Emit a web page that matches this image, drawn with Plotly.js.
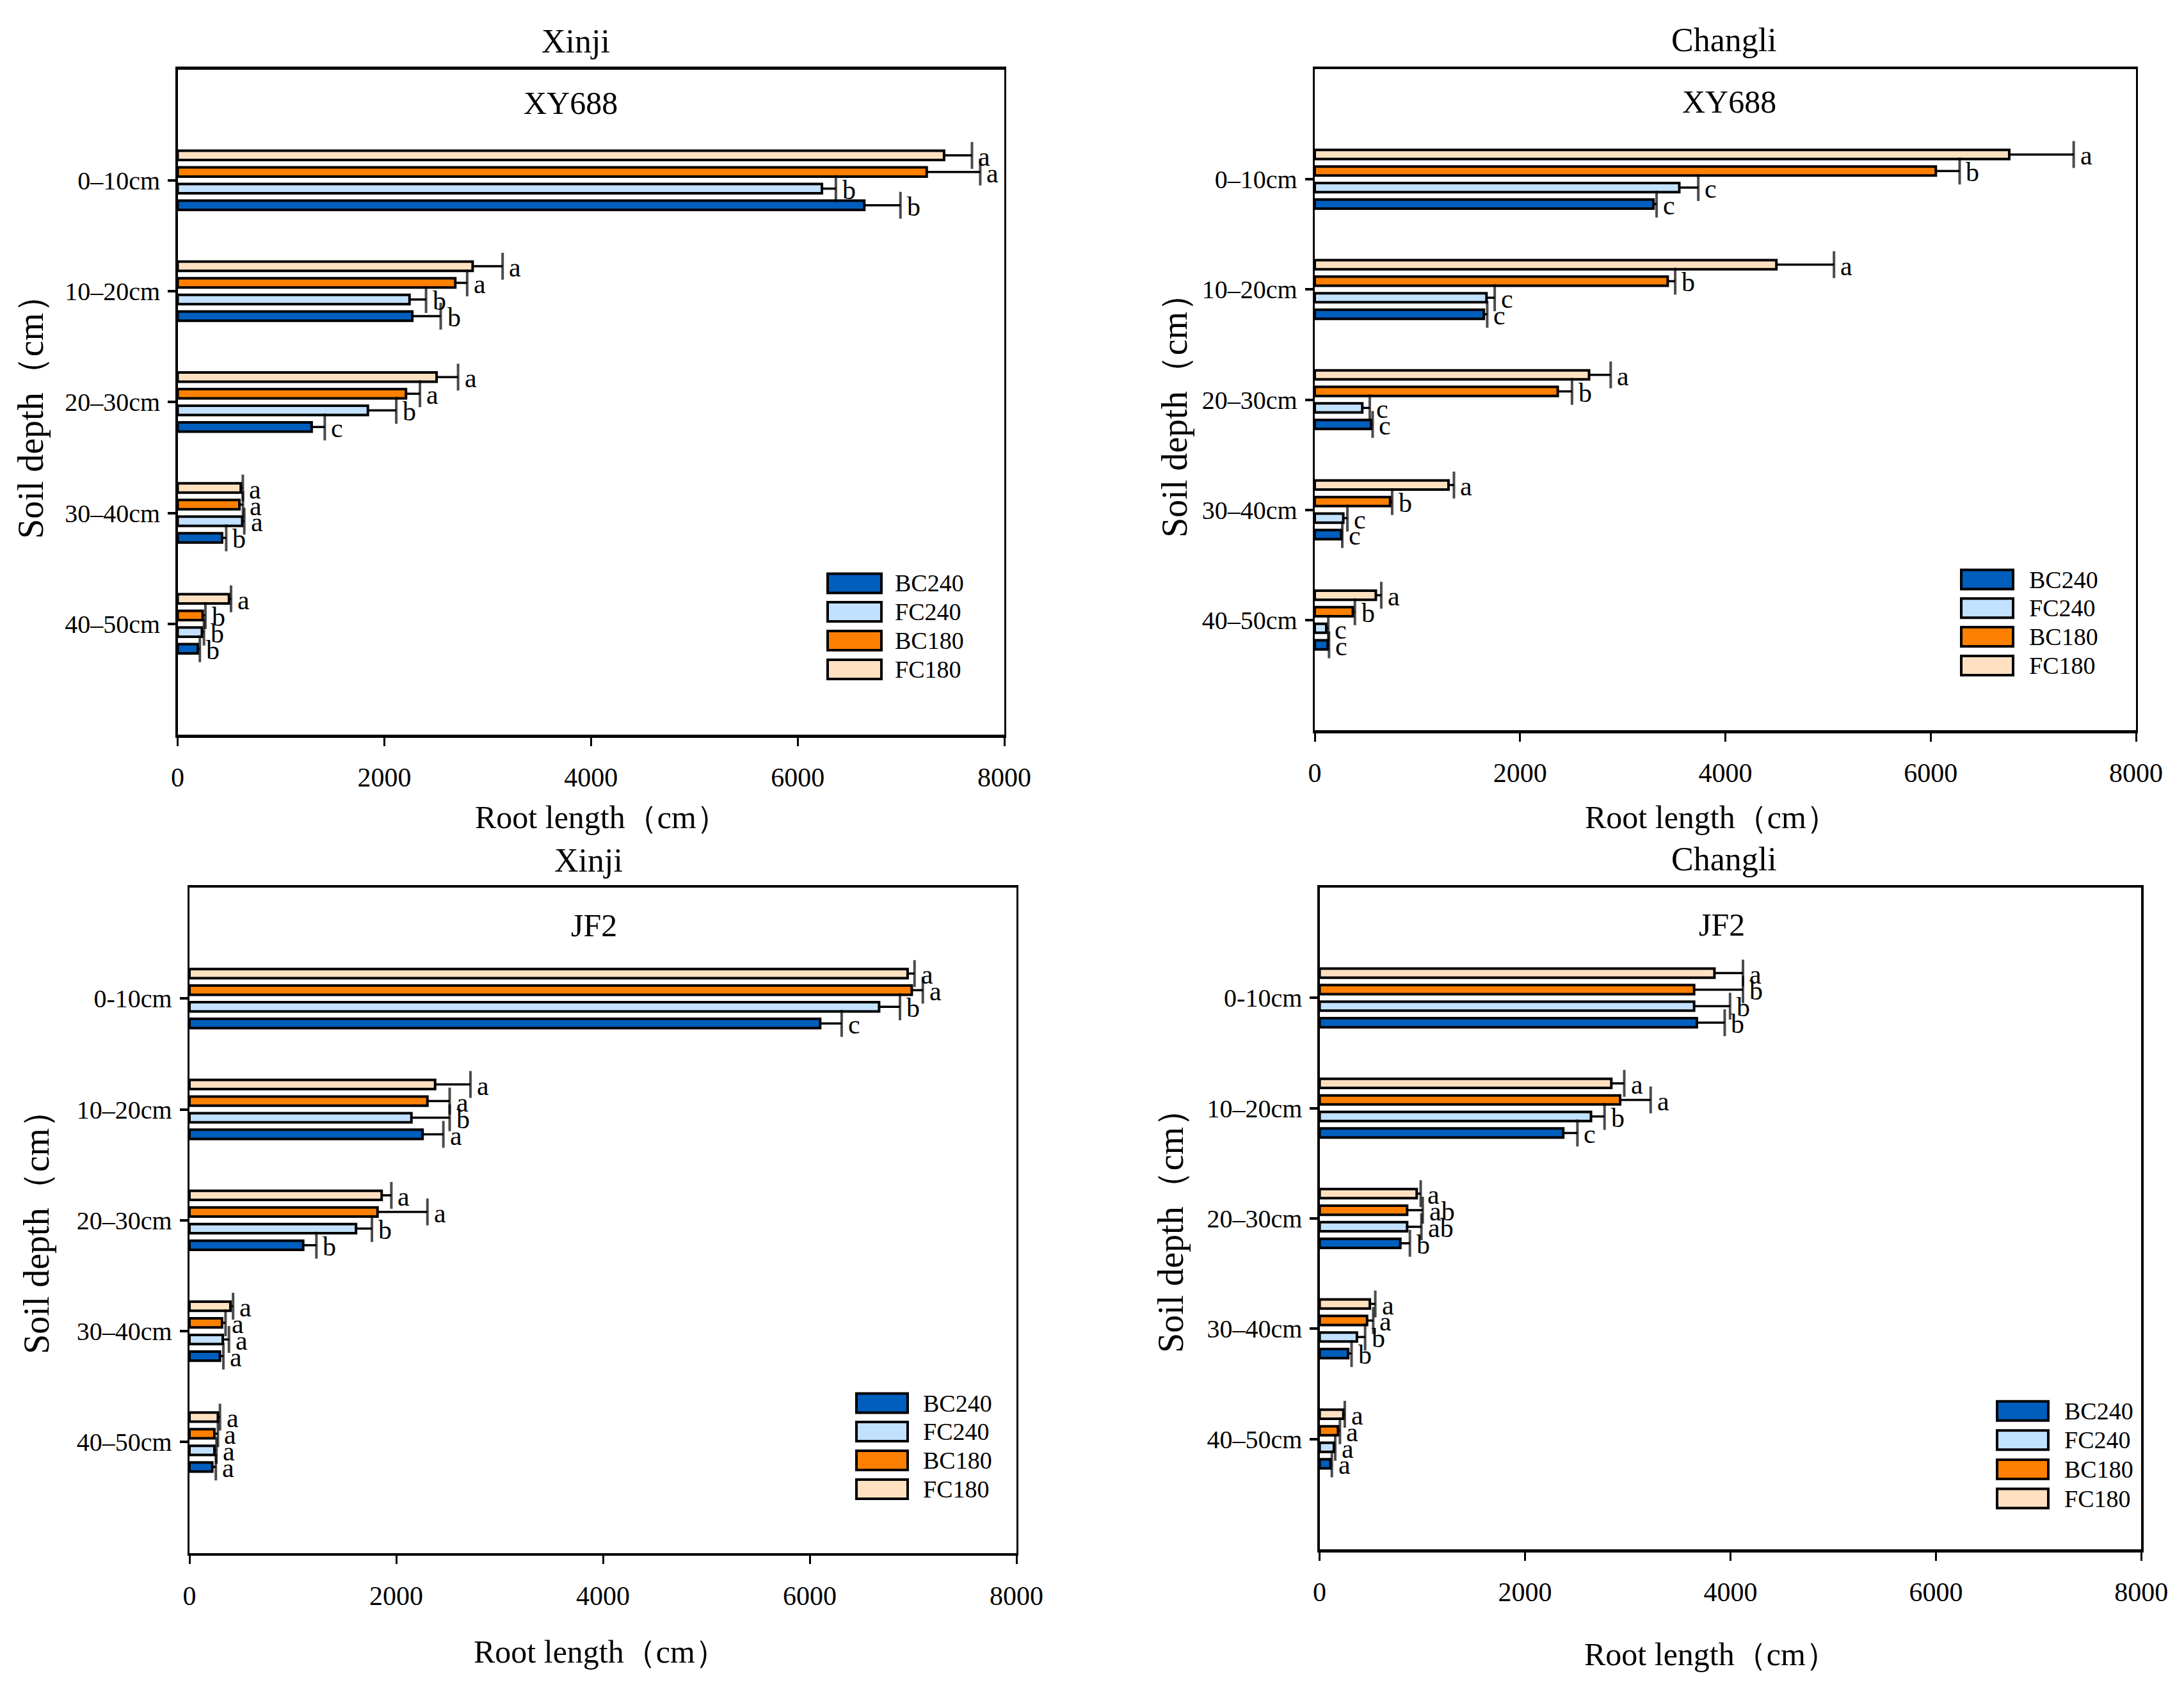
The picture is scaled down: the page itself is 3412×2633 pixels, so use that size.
<!DOCTYPE html>
<html><head><meta charset="utf-8">
<script src="https://cdn.plot.ly/plotly-3.0.1.min.js"></script>
<style>html,body{margin:0;padding:0;background:#fff}#chart{width:3412px;height:2633px}</style>
</head><body><div id="chart"></div>
<script>
// ---------- DATA ----------
const depthA = ['0–10cm','10–20cm','20–30cm','30–40cm','40–50cm'];
const depthB = ['0-10cm','10–20cm','20–30cm','30–40cm','40–50cm'];
const seriesNames = ['FC180','BC180','FC240','BC240'];   // top-to-bottom inside each group
const legendOrder = ['BC240','FC240','BC180','FC180'];
const xTicks = [0, 2000, 4000, 6000, 8000];

// Xinji - XY688
const xyXinji_FC180 = [7417, 2855, 2506, 611, 497];
const xyXinji_BC180 = [7249, 2687, 2210, 598, 242];
const xyXinji_FC240 = [6235, 2244, 1841, 625, 235];
const xyXinji_BC240 = [6645, 2271, 1297, 430, 195];
const xyXinji_FC180_err = [270, 290, 208, 20, 20];
const xyXinji_BC180_err = [518, 115, 135, 34, 27];
const xyXinji_FC240_err = [135, 160, 275, 20, 20];
const xyXinji_BC240_err = [350, 275, 127, 40, 20];
const xyXinji_FC180_sig = ['a','a','a','a','a'];
const xyXinji_BC180_sig = ['a','a','a','a','b'];
const xyXinji_FC240_sig = ['b','b','b','a','b'];
const xyXinji_BC240_sig = ['b','b','c','b','b'];

// Changli - XY688
const xyChangli_FC180 = [6765, 4497, 2672, 1303, 595];
const xyChangli_BC180 = [6050, 3438, 2367, 734, 371];
const xyChangli_FC240 = [3551, 1673, 463, 278, 112];
const xyChangli_BC240 = [3300, 1647, 549, 258, 126];
const xyChangli_FC180_err = [628, 561, 211, 53, 53];
const xyChangli_BC180_err = [232, 73, 139, 20, 20];
const xyChangli_FC240_err = [185, 80, 73, 40, 20];
const xyChangli_BC240_err = [30, 33, 15, 10, 13];
const xyChangli_FC180_sig = ['a','a','a','a','a'];
const xyChangli_BC180_sig = ['b','b','b','b','b'];
const xyChangli_FC240_sig = ['c','c','c','c','c'];
const xyChangli_BC240_sig = ['c','c','c','c','c'];

// Xinji - JF2
const jfXinji_FC180 = [6947, 2376, 1859, 396, 275];
const jfXinji_BC180 = [6987, 2302, 1819, 315, 241];
const jfXinji_FC240 = [6671, 2147, 1611, 322, 241];
const jfXinji_BC240 = [6101, 2255, 1100, 295, 221];
const jfXinji_FC180_err = [67, 342, 94, 26, 20];
const jfXinji_BC180_err = [107, 215, 483, 34, 34];
const jfXinji_FC240_err = [202, 370, 154, 60, 20];
const jfXinji_BC240_err = [208, 201, 128, 33, 34];
const jfXinji_FC180_sig = ['a','a','a','a','a'];
const jfXinji_BC180_sig = ['a','a','a','a','a'];
const jfXinji_FC240_sig = ['b','b','b','a','a'];
const jfXinji_BC240_sig = ['c','a','b','a','a'];

// Changli - JF2
const jfChangli_FC180 = [3844, 2840, 945, 489, 231];
const jfChangli_BC180 = [3646, 2926, 852, 462, 179];
const jfChangli_FC240 = [3646, 2642, 852, 363, 139];
const jfChangli_BC240 = [3673, 2372, 786, 278, 106];
const jfChangli_FC180_err = [278, 126, 39, 53, 14];
const jfChangli_BC180_err = [476, 297, 152, 60, 19];
const jfChangli_FC240_err = [350, 132, 139, 80, 13];
const jfChangli_BC240_err = [271, 138, 93, 33, 13];
const jfChangli_FC180_sig = ['a','a','a','a','a'];
const jfChangli_BC180_sig = ['b','a','ab','a','a'];
const jfChangli_FC240_sig = ['b','b','ab','b','a'];
const jfChangli_BC240_sig = ['b','c','b','b','a'];

// ---------- STYLE / LAYOUT ----------
const colors = {BC240:'#005EBD', FC240:'#C2E1FF', BC180:'#FF8000', FC180:'#FFE1C2'};
const W = 3412, H = 2633;
const px = x => x / W, py = y => 1 - y / H;
const SERIF = 'Liberation Serif, Times New Roman, serif';

const panels = [
  {L:277.5,R:1569,T:108.5,B:1148, cats:depthA, title:'Xinji', tpos:[900,65], sub:'XY688', spos:[891,161], yt:[48,638], xt:[940,1277],
   lg:{x0:1293,x1:1377,tx:1396,rows:[911.5,956,1001,1046]},
   vals:[xyXinji_FC180,xyXinji_BC180,xyXinji_FC240,xyXinji_BC240],
   errs:[xyXinji_FC180_err,xyXinji_BC180_err,xyXinji_FC240_err,xyXinji_BC240_err],
   sigs:[xyXinji_FC180_sig,xyXinji_BC180_sig,xyXinji_FC240_sig,xyXinji_BC240_sig]},
  {L:2054,R:3337,T:108,B:1141, cats:depthA, title:'Changli', tpos:[2693,62], sub:'XY688', spos:[2701,159], yt:[1835,635], xt:[2674,1277],
   lg:{x0:3064,x1:3145,tx:3168,rows:[905.6,950.3,995,1040]},
   vals:[xyChangli_FC180,xyChangli_BC180,xyChangli_FC240,xyChangli_BC240],
   errs:[xyChangli_FC180_err,xyChangli_BC180_err,xyChangli_FC240_err,xyChangli_BC240_err],
   sigs:[xyChangli_FC180_sig,xyChangli_BC180_sig,xyChangli_FC240_sig,xyChangli_BC240_sig]},
  {L:296,R:1588,T:1387,B:2426.6, cats:depthB, title:'Xinji', tpos:[919,1344], sub:'JF2', spos:[928,1446], yt:[57,1912], xt:[938,2581],
   lg:{x0:1338,x1:1418,tx:1440,rows:[2192.6,2237,2282,2327]},
   vals:[jfXinji_FC180,jfXinji_BC180,jfXinji_FC240,jfXinji_BC240],
   errs:[jfXinji_FC180_err,jfXinji_BC180_err,jfXinji_FC240_err,jfXinji_BC240_err],
   sigs:[jfXinji_FC180_sig,jfXinji_BC180_sig,jfXinji_FC240_sig,jfXinji_BC240_sig]},
  {L:2061.6,R:3345.3,T:1387,B:2421, cats:depthB, title:'Changli', tpos:[2693,1342], sub:'JF2', spos:[2690,1445], yt:[1829,1910], xt:[2673,2585],
   lg:{x0:3120,x1:3200,tx:3223,rows:[2204.7,2250.3,2296,2341.5]},
   vals:[jfChangli_FC180,jfChangli_BC180,jfChangli_FC240,jfChangli_BC240],
   errs:[jfChangli_FC180_err,jfChangli_BC180_err,jfChangli_FC240_err,jfChangli_BC240_err],
   sigs:[jfChangli_FC180_sig,jfChangli_BC180_sig,jfChangli_FC240_sig,jfChangli_BC240_sig]}
];

const BARGAP = 0.4, GROUPGAP = 0.45;
const groupW = 1 - BARGAP, slotW = groupW / seriesNames.length;
const pos = [0,1,2,3,4];

const traces = [], annotations = [], shapes = [];
const layout = {
  width: W, height: H, margin:{l:0,r:0,t:0,b:0},
  paper_bgcolor:'#fff', plot_bgcolor:'#fff',
  barmode:'group', bargap:BARGAP, bargroupgap:GROUPGAP, showlegend:false,
  font:{family:SERIF, color:'#000'}
};

panels.forEach((p, i) => {
  const s = i === 0 ? '' : String(i + 1);
  const xa = 'x' + s, ya = 'y' + s;
  layout['xaxis' + s] = {
    domain:[px(p.L), px(p.R)], anchor:ya, range:[0,8000], tickvals:xTicks, ticktext:xTicks.map(String),
    showline:true, linewidth:4.5, linecolor:'#000', mirror:true,
    ticks:'outside', ticklen:13, tickwidth:3, tickcolor:'#000', ticklabelstandoff:13,
    tickfont:{family:SERIF, size:42, color:'#000'}, showgrid:false, zeroline:false, fixedrange:true
  };
  layout['yaxis' + s] = {
    domain:[py(p.B), py(p.T)], anchor:xa, range:[5,-1], tickvals:pos, ticktext:p.cats,
    showline:true, linewidth:3.3, linecolor:'#000', mirror:true,
    ticks:'outside', ticklen:12, tickwidth:4, tickcolor:'#000', ticklabelstandoff:4,
    tickfont:{family:SERIF, size:40, color:'#000'}, showgrid:false, zeroline:false, fixedrange:true
  };

  seriesNames.forEach((name, k) => {
    const v = p.vals[k], e = p.errs[k], sg = p.sigs[k];
    traces.push({
      type:'bar', orientation:'h', name:name, x:v, y:pos, xaxis:xa, yaxis:ya,
      marker:{color:colors[name], line:{color:'#000', width:4}}, hoverinfo:'x+name'
    });
    const off = -groupW/2 + slotW*(k + 0.5);
    // error bars (plus side only): line from bar end + cap marker
    const ex = [], ey = [], es = [];
    v.forEach((val, j) => {
      ex.push(val, val + e[j], null);
      ey.push(j + off, j + off, null);
      es.push(0, 30, 0);
    });
    traces.push({
      type:'scatter', mode:'lines+markers', x:ex, y:ey, xaxis:xa, yaxis:ya, hoverinfo:'skip',
      line:{color:'#000', width:3.5},
      marker:{symbol:'line-ns', size:es, color:'#000', line:{color:'#000', width:4}}
    });
    v.forEach((val, j) => {
      annotations.push({
        xref:xa, yref:ya, x:val + e[j], y:j + off, text:sg[j], showarrow:false,
        xanchor:'left', yanchor:'middle', xshift:8, yshift:-2,
        font:{family:SERIF, size:42, color:'#000'}
      });
    });
  });

  // titles
  annotations.push({xref:'paper', yref:'paper', x:px(p.tpos[0]), y:py(p.tpos[1]), text:p.title, showarrow:false,
    xanchor:'center', yanchor:'middle', font:{family:SERIF, size:52, color:'#000'}});
  annotations.push({xref:'paper', yref:'paper', x:px(p.spos[0]), y:py(p.spos[1]), text:p.sub, showarrow:false,
    xanchor:'center', yanchor:'middle', font:{family:SERIF, size:50, color:'#000'}});
  annotations.push({xref:'paper', yref:'paper', x:px(p.xt[0]), y:py(p.xt[1]), text:'Root length（cm）', showarrow:false,
    xanchor:'center', yanchor:'middle', font:{family:SERIF, size:50, color:'#000'}});
  annotations.push({xref:'paper', yref:'paper', x:px(p.yt[0]), y:py(p.yt[1]), text:'Soil depth（cm）', showarrow:false,
    textangle:-90, xanchor:'center', yanchor:'middle', font:{family:SERIF, size:56, color:'#000'}});

  // legend (manual, large swatches)
  legendOrder.forEach((name, r) => {
    const yc = p.lg.rows[r];
    shapes.push({type:'rect', xref:'paper', yref:'paper', x0:px(p.lg.x0), x1:px(p.lg.x1), y0:py(yc + 15), y1:py(yc - 15),
      fillcolor:colors[name], line:{color:'#000', width:4}});
    annotations.push({xref:'paper', yref:'paper', x:px(p.lg.tx), y:py(yc), text:name, showarrow:false,
      xanchor:'left', yanchor:'middle', font:{family:SERIF, size:38, color:'#000'}});
  });
});

layout.annotations = annotations;
layout.shapes = shapes;
Plotly.newPlot('chart', traces, layout, {staticPlot:true, displayModeBar:false});
</script>
</body></html>
